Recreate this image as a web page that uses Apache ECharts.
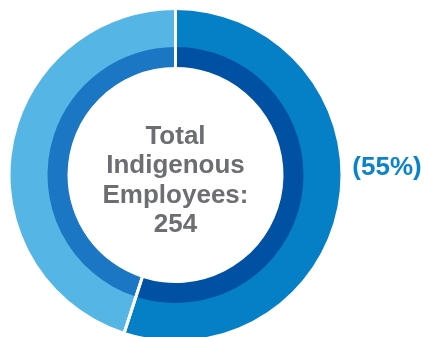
<!DOCTYPE html>
<html><head><meta charset="utf-8">
<script src="https://cdn.jsdelivr.net/npm/echarts@6/dist/echarts.min.js"></script>
<style>html,body{margin:0;padding:0;background:#fff}#c{width:424px;height:337px}</style>
</head><body><div id="c"></div>
<script>
const categories = ['Indigenous share', 'Other'];
const outerValues = [55, 45];
const innerValues = [55, 45];
const centerLines = ['Total', 'Indigenous', 'Employees:', '254'];
const outerColors = ['#0580c6', '#55b6e6'];
const innerColors = ['#0050a3', '#1b76c3'];

const chart = echarts.init(document.getElementById('c'));
const total = outerValues.reduce((a, b) => a + b, 0);
const pct = Math.round(outerValues[0] / total * 100);
const cx = 175.5, cy = 175;
function mk(vals, cols) {
  return vals.map((v, i) => ({ name: categories[i], value: v, itemStyle: { color: cols[i] } }));
}
chart.setOption({
  animation: false,
  series: [
    { type: 'pie', center: [cx, cy], radius: [127, 165], startAngle: 90, clockwise: true,
      label: { show: false }, labelLine: { show: false }, silent: true,
      data: mk(outerValues, outerColors) },
    { type: 'pie', center: [cx, cy], radius: [108, 128], startAngle: 90, clockwise: true,
      label: { show: false }, labelLine: { show: false }, silent: true,
      data: mk(innerValues, innerColors) },
    { type: 'pie', center: [cx, cy], radius: [104, 170], startAngle: 90, clockwise: true,
      label: { show: false }, labelLine: { show: false }, silent: true, z: 5,
      data: outerValues.map((v, i) => ({ name: categories[i], value: v,
        itemStyle: { color: 'rgba(0,0,0,0)', borderColor: '#fff', borderWidth: 3 } })) }
  ],
  graphic: [
    { type: 'text', x: cx, y: 181, z: 10,
      style: { text: centerLines.join('\n'), align: 'center', verticalAlign: 'middle',
        fill: '#6d6e71', font: 'bold 26px "Liberation Sans", Arial, sans-serif', lineHeight: 29.5 } },
    { type: 'text', x: 387, y: 168, z: 10,
      style: { text: '(' + pct + '%)', align: 'center', verticalAlign: 'middle',
        fill: '#0a84c8', font: 'bold 26px "Liberation Sans", Arial, sans-serif' } }
  ]
});
</script></body></html>
